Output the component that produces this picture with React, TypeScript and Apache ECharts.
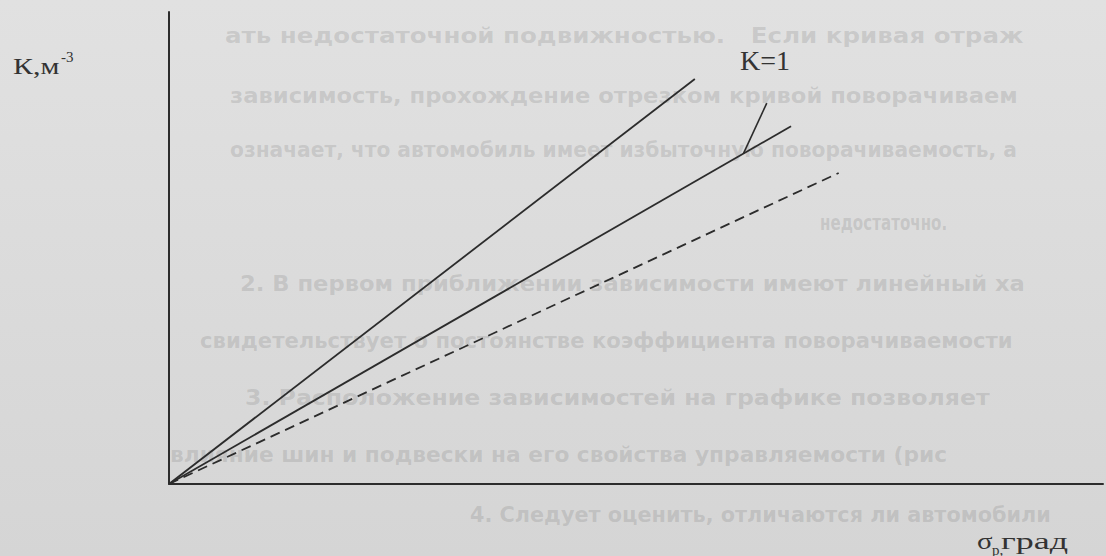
import React, { useEffect, useRef } from "react";
import * as echarts from "echarts";

// Steering characteristic lines: coefficient K versus slip angle σр
const lineNames = ["K>1", "K=1", "K<1"];
const sigmaSteep = [0, 56.3];
const kSteep = [0, 85.8];
const sigmaNeutral = [0, 66.6];
const kNeutral = [0, 75.8];
const sigmaDashed = [0, 71.7];
const kDashed = [0, 65.9];

// Leader from the "K=1" caption to its line
const leaderSigma = [64.0, 61.5];
const leaderK = [80.7, 70.0];

const yTitle = "К,м";
const yTitleSup = "-3";
const xTitleMain = "σ";
const xTitleSub = "р,";
const xTitleUnit = "град";
const neutralCaption = "K=1";

// Faint text of the printed page showing through
const pageLines = [
  "ать недостаточной подвижностью.   Если кривая отраж",
  "зависимость, прохождение отрезком кривой поворачиваем",
  "означает, что автомобиль имеет избыточную поворачиваемость, а",
  "недостаточно.",
  "2. В первом приближении зависимости имеют линейный ха",
  "свидетельствует о постоянстве коэффициента поворачиваемости",
  "3. Расположение зависимостей на графике позволяет",
  "влияние шин и подвески на его свойства управляемости (рис",
  "4. Следует оценить, отличаются ли автомобили",
];

const pair = (xs: number[], ys: number[]) => xs.map((x, i) => [x, ys[i]]);

const INK = "#2c2c2c";

export default function App() {
  const ref = useRef<HTMLDivElement>(null);

  useEffect(() => {
    if (!ref.current) return;
    const chart = echarts.init(ref.current, undefined, { renderer: "svg" });

    // [left, middle y, horizontal stretch]
    const pageLayout = [
      [225, 36, 1.3],
      [230, 95, 1.2],
      [230, 150, 1.07],
      [820, 222, 0.8],
      [240, 283, 1.2],
      [200, 340, 1.12],
      [245, 398, 1.25],
      [170, 455, 1.15],
      [470, 515, 1.1],
    ];

    const ghost = pageLines.map((t, i) => ({
      type: "text",
      silent: true,
      z: -10,
      x: pageLayout[i][0],
      y: pageLayout[i][1],
      scaleX: pageLayout[i][2],
      style: {
        text: t,
        fill: "rgba(105,105,105,0.2)",
        font: "bold 21px 'DejaVu Sans Condensed', 'Liberation Sans', sans-serif",
        verticalAlign: "middle",
      },
    }));

    const serif = "'Liberation Serif', 'DejaVu Serif', serif";

    chart.setOption({
      animation: false,
      backgroundColor: new echarts.graphic.LinearGradient(0, 0, 0, 1, [
        { offset: 0, color: "#e1e1e1" },
        { offset: 1, color: "#d5d5d5" },
      ]),
      grid: { left: 169, right: 3, top: 12, bottom: 72, containLabel: false },
      xAxis: {
        type: "value",
        min: 0,
        max: 100,
        axisLine: { show: true, lineStyle: { color: INK, width: 2 } },
        axisTick: { show: false },
        axisLabel: { show: false },
        splitLine: { show: false },
      },
      yAxis: {
        type: "value",
        min: 0,
        max: 100,
        axisLine: { show: true, lineStyle: { color: INK, width: 2 } },
        axisTick: { show: false },
        axisLabel: { show: false },
        splitLine: { show: false },
      },
      series: [
        {
          name: lineNames[0],
          type: "line",
          data: pair(sigmaSteep, kSteep),
          symbol: "none",
          lineStyle: { color: INK, width: 1.8 },
        },
        {
          name: lineNames[1],
          type: "line",
          data: pair(sigmaNeutral, kNeutral),
          symbol: "none",
          lineStyle: { color: INK, width: 1.8 },
        },
        {
          name: lineNames[2],
          type: "line",
          data: pair(sigmaDashed, kDashed),
          symbol: "none",
          lineStyle: { color: INK, width: 1.8, type: [10, 6] },
        },
        {
          name: "leader",
          type: "line",
          data: pair(leaderSigma, leaderK),
          symbol: "none",
          lineStyle: { color: INK, width: 1.6 },
        },
      ],
      graphic: [
        ...ghost,
        {
          type: "text",
          x: 13,
          y: 78,
          scaleX: 1.3,
          style: { text: yTitle, fill: "#333", font: `23px ${serif}`, verticalAlign: "bottom" },
        },
        {
          type: "text",
          x: 61,
          y: 49,
          style: { text: yTitleSup, fill: "#333", font: `15px ${serif}`, verticalAlign: "top" },
        },
        {
          type: "text",
          x: 740,
          y: 74,
          style: { text: neutralCaption, fill: "#333", font: `28px ${serif}`, verticalAlign: "bottom" },
        },
        {
          type: "text",
          x: 977,
          y: 553,
          scaleX: 1.2,
          style: { text: xTitleMain, fill: "#333", font: `24px ${serif}`, verticalAlign: "bottom" },
        },
        {
          type: "text",
          x: 992,
          y: 557,
          style: { text: xTitleSub, fill: "#333", font: `15px ${serif}`, verticalAlign: "bottom" },
        },
        {
          type: "text",
          x: 1001,
          y: 553,
          scaleX: 1.5,
          style: { text: xTitleUnit, fill: "#333", font: `24px ${serif}`, verticalAlign: "bottom" },
        },
      ],
    });

    return () => chart.dispose();
  }, []);

  return (
    <div
      ref={ref}
      style={{ position: "fixed", left: 0, top: 0, width: 1106, height: 556 }}
    />
  );
}
